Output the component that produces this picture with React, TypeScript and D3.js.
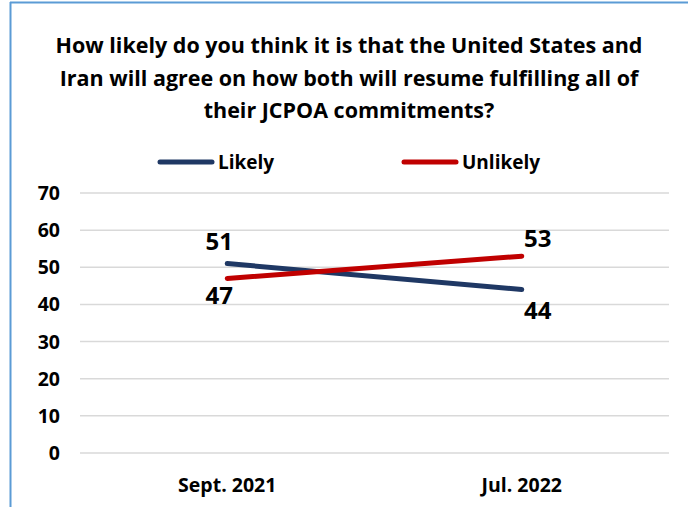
import React from "react";
import * as d3 from "d3";

const categories = ["Sept. 2021", "Jul. 2022"];
const likely = [51, 44];
const unlikely = [47, 53];
const yTicks = [0, 10, 20, 30, 40, 50, 60, 70];
const titleLines = [
  "How likely do you think it is that the United States and",
  "Iran will agree on how both will resume fulfilling all of",
  "their JCPOA commitments?",
];

const W = 688;
const H = 507;
const FONT = "'Open Sans', 'Noto Sans', sans-serif";

export default function App() {
  const x = d3.scaleBand<string>().domain(categories).range([80, 669]);
  const y = d3.scaleLinear().domain([0, 70]).range([453, 193]);
  const cx = (c: string) => (x(c) ?? 0) + x.bandwidth() / 2;
  const line = d3
    .line<number>()
    .x((_, i) => cx(categories[i]))
    .y((d) => y(d));

  const series = [
    { name: "Likely", values: likely, color: "#1F3864", lx: 160, labelOffsets: [-14, 29] },
    { name: "Unlikely", values: unlikely, color: "#C00000", lx: 404, labelOffsets: [26, -9] },
  ];

  return (
    <svg
      width={W}
      height={H}
      style={{ position: "absolute", left: 0, top: 0, background: "#fff" }}
      fontFamily={FONT}
    >
      <rect x={0} y={0} width={W} height={H} fill="#fff" />
      <line x1={10} x2={W} y1={2.5} y2={2.5} stroke="#5B9BD5" strokeWidth={2} />
      <line x1={10.5} x2={10.5} y1={2} y2={H} stroke="#5B9BD5" strokeWidth={2} />

      {titleLines.map((t, i) => (
        <text
          key={i}
          x={349}
          y={53 + i * 32.5}
          textAnchor="middle"
          fontSize={21.5}
          fontWeight="bold"
          fill="#000"
        >
          {t}
        </text>
      ))}

      {series.map((s) => (
        <g key={s.name}>
          <line
            x1={s.lx}
            x2={s.lx + 52}
            y1={162}
            y2={162}
            stroke={s.color}
            strokeWidth={5}
            strokeLinecap="round"
          />
          <text x={s.lx + 58} y={168.5} fontSize={19} fontWeight="bold" fill="#000">
            {s.name}
          </text>
        </g>
      ))}

      {yTicks.map((t) => (
        <g key={t}>
          <line x1={80} x2={669} y1={y(t)} y2={y(t)} stroke="#d9d9d9" strokeWidth={1.5} />
          <text x={60} y={y(t) + 7} textAnchor="end" fontSize={19.5} fontWeight="bold" fill="#000">
            {t}
          </text>
        </g>
      ))}

      {categories.map((c) => (
        <text key={c} x={cx(c)} y={492} textAnchor="middle" fontSize={19.5} fontWeight="bold" fill="#000">
          {c}
        </text>
      ))}

      {series.map((s) => (
        <g key={s.name + "l"}>
          <path
            d={line(s.values) ?? ""}
            fill="none"
            stroke={s.color}
            strokeWidth={5}
            strokeLinecap="round"
          />
          {s.values.map((v, i) => (
            <text
              key={i}
              x={cx(categories[i]) + (i === 0 ? -8 : 16)}
              y={y(v) + s.labelOffsets[i]}
              textAnchor="middle"
              fontSize={24}
              fontWeight="bold"
              fill="#000"
            >
              {v}
            </text>
          ))}
        </g>
      ))}
    </svg>
  );
}
